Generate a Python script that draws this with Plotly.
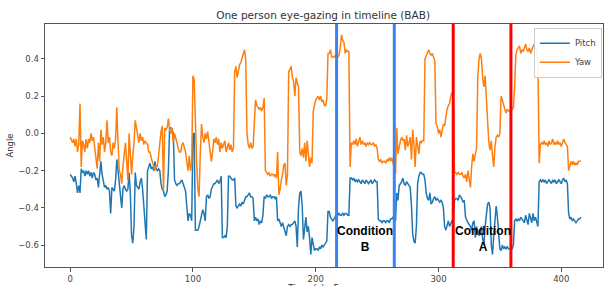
import plotly.graph_objects as go

pitch = [
    -0.22, -0.23, -0.24, -0.26, -0.23, -0.27, -0.32, -0.28, -0.32, -0.19,
    -0.21, -0.20, -0.23, -0.20, -0.22, -0.20, -0.23, -0.21, -0.24, -0.21,
    -0.22, -0.25, -0.24, -0.29, -0.20, -0.15, -0.22, -0.25, -0.29, -0.28,
    -0.30, -0.29, -0.31, -0.43, -0.29, -0.30, -0.31, -0.25, -0.14, -0.20,
    -0.26, -0.33, -0.40, -0.30, -0.28, -0.30, -0.31, -0.30, -0.21, -0.32,
    -0.55, -0.59, -0.50, -0.21, -0.28, -0.29, -0.30, -0.26, -0.24, -0.30,
    -0.39, -0.50, -0.57, -0.20, -0.18, -0.16, -0.19, -0.18, -0.20, -0.15,
    -0.19, -0.20, -0.19, -0.20, -0.27, -0.30, -0.31, -0.34, -0.33, -0.31,
    -0.20, 0.03, 0.03, 0.02, 0.00, -0.25, -0.27, -0.28, -0.27, -0.27,
    -0.26, -0.25, -0.27, -0.29, -0.31, -0.39, -0.47, -0.43, -0.44, -0.47,
    0.00, 0.00, -0.52, -0.52, -0.52, -0.50, -0.47, -0.44, -0.41, -0.43,
    -0.47, -0.34, -0.33, -0.35, -0.34, -0.30, -0.28, -0.27, -0.27, -0.26,
    -0.25, -0.27, -0.26, -0.23, -0.56, -0.56, -0.55, -0.56, -0.50, -0.23,
    -0.23, -0.24, -0.25, -0.25, -0.24, -0.39, -0.40, -0.39, -0.38, -0.39,
    -0.37, -0.38, -0.36, -0.34, -0.34, -0.33, -0.32, -0.34, -0.34, -0.35,
    -0.47, -0.45, -0.47, -0.46, -0.49, -0.47, -0.48, -0.44, -0.34, -0.35,
    -0.33, -0.34, -0.34, -0.33, -0.35, -0.34, -0.34, -0.35, -0.34, -0.47,
    -0.46, -0.48, -0.50, -0.48, -0.50, -0.52, -0.55, -0.50, -0.49, -0.50,
    -0.49, -0.49, -0.48, -0.47, -0.50, -0.61, -0.40, -0.32, -0.31, -0.39,
    -0.57, -0.50, -0.45, -0.53, -0.50, -0.56, -0.65, -0.56, -0.60, -0.63,
    -0.62, -0.62, -0.63, -0.61, -0.62, -0.60, -0.61, -0.60, -0.59, -0.58,
    -0.42, -0.42, -0.45, -0.46, -0.47, -0.46, -0.44, -0.43, -0.44, -0.43,
    -0.44, -0.44, -0.43, -0.44, -0.43, -0.43, -0.44, -0.44, -0.24, -0.24,
    -0.25, -0.24, -0.26, -0.25, -0.26, -0.25, -0.26, -0.27, -0.25, -0.26,
    -0.27, -0.25, -0.26, -0.27, -0.26, -0.25, -0.27, -0.26, -0.25, -0.26,
    -0.26, -0.46, -0.47, -0.47, -0.48, -0.47, -0.47, -0.48, -0.47, -0.47,
    -0.48, -0.46, -0.46, -0.45, -0.46, -0.47, -0.32, -0.36, -0.28, -0.27,
    -0.26, -0.24, -0.27, -0.28, -0.26, -0.27, -0.28, -0.29, -0.39, -0.54,
    -0.58, -0.59, -0.50, -0.27, -0.23, -0.21, -0.21, -0.22, -0.22, -0.25,
    -0.32, -0.35, -0.36, -0.32, -0.38, -0.37, -0.35, -0.34, -0.36, -0.35,
    -0.36, -0.37, -0.36, -0.37, -0.40, -0.50, -0.52, -0.50, -0.47, -0.50,
    -0.48, -0.47, -0.46, -0.36, -0.35, -0.35, -0.36, -0.33, -0.34, -0.35,
    -0.37, -0.36, -0.45, -0.47, -0.48, -0.49, -0.50, -0.52, -0.48, -0.47,
    -0.56, -0.50, -0.53, -0.55, -0.52, -0.50, -0.57, -0.60, -0.50, -0.44,
    -0.38, -0.37, -0.40, -0.60, -0.65, -0.55, -0.45, -0.39, -0.45, -0.55,
    -0.62, -0.63, -0.60, -0.62, -0.61, -0.62, -0.61, -0.62, -0.62, -0.62,
    -0.62, -0.60, -0.47, -0.46, -0.47, -0.46, -0.47, -0.45, -0.46, -0.47,
    -0.48, -0.44, -0.47, -0.49, -0.43, -0.46, -0.48, -0.43, -0.47, -0.45,
    -0.48, -0.50, -0.26, -0.25, -0.26, -0.25, -0.26, -0.25, -0.27, -0.26,
    -0.25, -0.26, -0.27, -0.25, -0.26, -0.25, -0.27, -0.26, -0.25, -0.26,
    -0.27, -0.25, -0.24, -0.26, -0.25, -0.27, -0.43, -0.46, -0.45, -0.47,
    -0.46, -0.47, -0.48, -0.47, -0.46, -0.46, -0.45,
]

yaw = [
    -0.02, -0.04, -0.05, -0.03, -0.07, -0.03, -0.10, -0.06, 0.16, -0.18,
    -0.04, -0.06, -0.10, -0.03, -0.08, -0.03, -0.05, 0.00, -0.04, -0.02,
    -0.08, -0.12, -0.19, -0.05, -0.15, 0.02, -0.06, -0.02, -0.10, -0.05,
    0.07, -0.05, -0.02, -0.10, -0.12, -0.05, -0.08, -0.03, 0.14, -0.05,
    -0.20, -0.22, -0.27, -0.18, -0.10, -0.05, -0.15, -0.25, 0.00, -0.10,
    -0.22, -0.12, -0.05, 0.07, 0.02, 0.00, -0.05, 0.00, -0.04, -0.02,
    -0.06, -0.04, -0.05, -0.06, -0.10, -0.10, -0.13, -0.15, -0.17, -0.20,
    -0.17, -0.18, -0.12, -0.05, 0.01, 0.04, -0.31, 0.03, 0.02, 0.03,
    0.08, 0.02, 0.00, 0.03, -0.05, 0.00, -0.02, -0.05, -0.08, -0.10,
    -0.10, -0.06, -0.05, -0.08, -0.10, -0.15, -0.20, -0.12, -0.20, -0.16,
    0.31, 0.29, 0.00, -0.15, -0.30, -0.34, -0.10, 0.05, -0.02, -0.05,
    0.00, -0.03, 0.01, -0.05, -0.08, -0.15, -0.10, -0.03, -0.05, -0.02,
    -0.06, -0.03, -0.10, -0.05, -0.08, -0.06, -0.04, -0.10, -0.07, -0.05,
    -0.09, -0.06, -0.10, -0.08, 0.33, 0.36, 0.30, 0.34, 0.37, 0.38,
    0.40, 0.42, 0.45, 0.40, 0.00, -0.06, -0.08, -0.05, -0.08, -0.07,
    0.10, 0.18, 0.15, 0.14, 0.13, 0.14, 0.12, 0.14, 0.19, -0.20,
    -0.21, -0.22, -0.21, -0.23, -0.22, -0.22, -0.23, -0.22, -0.24, -0.10,
    -0.33, -0.30, -0.25, -0.22, -0.17, -0.16, -0.28, -0.22, 0.33, 0.35,
    0.36, 0.30, 0.28, 0.20, 0.30, 0.27, 0.25, -0.10, -0.12, -0.08,
    -0.13, -0.05, -0.15, -0.04, -0.10, -0.18, -0.13, -0.16, 0.12, 0.15,
    0.18, 0.19, 0.20, 0.18, 0.20, 0.17, 0.18, 0.15, 0.15, 0.18,
    0.43, 0.43, 0.45, 0.41, 0.41, 0.41, 0.42, 0.40, 0.41, 0.42,
    0.46, 0.53, 0.50, 0.49, 0.43, 0.45, 0.44, 0.44, -0.18, -0.05,
    -0.06, -0.04, -0.06, -0.03, -0.07, -0.05, -0.02, -0.06, -0.04, -0.06,
    -0.05, -0.07, -0.05, -0.06, -0.05, -0.06, -0.06, -0.05, -0.07, -0.06,
    -0.08, -0.14, -0.15, -0.14, -0.16, -0.15, -0.15, -0.16, -0.14, -0.15,
    -0.13, -0.15, -0.13, -0.16, -0.18, -0.22, 0.03, -0.11, -0.06, -0.04,
    -0.02, -0.04, -0.03, -0.09, -0.01, -0.07, -0.05, -0.02, -0.14, 0.02,
    -0.06, -0.18, -0.02, -0.08, -0.11, -0.04, -0.05, -0.04, -0.04, 0.40,
    0.42, 0.44, 0.45, 0.43, 0.42, 0.43, 0.41, 0.39, 0.05, 0.04,
    0.00, 0.02, -0.02, 0.02, 0.05, 0.04, 0.10, 0.13, 0.15, 0.16,
    0.20, 0.22, 0.20, -0.21, -0.21, -0.22, -0.21, -0.22, -0.22, -0.21,
    -0.23, -0.24, -0.22, -0.26, -0.20, -0.24, -0.29, -0.18, -0.11, -0.15,
    -0.12, -0.08, 0.30, 0.40, 0.43, 0.40, 0.30, 0.25, 0.31, 0.20,
    0.05, -0.05, -0.09, -0.04, -0.12, -0.18, -0.07, -0.02, -0.01, -0.02,
    0.00, 0.20, 0.18, 0.15, 0.13, 0.11, 0.13, 0.12, 0.12, 0.12,
    0.13, 0.14, 0.25, 0.42, 0.45, 0.46, 0.47, 0.43, 0.45, 0.44,
    0.46, 0.48, 0.45, 0.44, 0.46, 0.43, 0.45, 0.47, 0.48, 0.46,
    0.44, 0.39, -0.16, -0.06, -0.05, -0.06, -0.04, -0.06, -0.05, -0.07,
    -0.04, -0.06, -0.05, -0.03, -0.06, -0.05, -0.06, -0.04, -0.06, -0.05,
    -0.07, -0.05, -0.03, -0.05, -0.06, -0.07, -0.20, -0.18, -0.15, -0.17,
    -0.15, -0.17, -0.16, -0.17, -0.15, -0.15, -0.15,
]

frames_pitch = list(range(len(pitch)))
frames_yaw = list(range(len(yaw)))

cond_b_lines = [217, 264]
cond_a_lines = [312, 359]
cond_labels = ["Condition<br>B", "Condition<br>A"]
cond_label_x = [240.5, 336]
cond_label_y = -0.565

x_ticks = [0, 100, 200, 300, 400]
y_ticks = [-0.6, -0.4, -0.2, 0.0, 0.2, 0.4]

fig = go.Figure()
fig.add_trace(go.Scatter(x=frames_pitch, y=pitch, mode="lines", name="Pitch",
                         line=dict(color="#1f77b4", width=1.5)))
fig.add_trace(go.Scatter(x=frames_yaw, y=yaw, mode="lines", name="Yaw",
                         line=dict(color="#ff7f0e", width=1.5)))

for xv in cond_b_lines:
    fig.add_shape(type="line", xref="x", yref="paper", x0=xv, x1=xv, y0=0, y1=1,
                  line=dict(color="#3b84f2", width=3))
for xv in cond_a_lines:
    fig.add_shape(type="line", xref="x", yref="paper", x0=xv, x1=xv, y0=0, y1=1,
                  line=dict(color="#ff0000", width=3))

for txt, xv in zip(cond_labels, cond_label_x):
    fig.add_annotation(x=xv, y=cond_label_y, xref="x", yref="y", text="<b>" + txt + "</b>",
                       showarrow=False,
                       font=dict(family="Liberation Sans, Arial", size=12, color="#000000"))

fig.add_annotation(x=0.5, y=-0.056, xref="paper", yref="paper", yanchor="top",
                   text="Time (s) - Frame", showarrow=False,
                   font=dict(family="DejaVu Sans", size=9, color="#333333"))

fig.update_layout(
    width=604, height=286,
    margin=dict(l=45, r=1, t=24, b=19),
    paper_bgcolor="white", plot_bgcolor="white",
    title=dict(text="One person eye-gazing in timeline (BAB)", x=0.535, xanchor="center",
               y=0.945, yanchor="middle",
               font=dict(family="DejaVu Sans", size=10.5, color="#333333")),
    font=dict(family="DejaVu Sans", size=8.5, color="#444444"),
    legend=dict(x=0.998, y=0.985, xanchor="right", yanchor="top",
                bgcolor="rgba(255,255,255,0.9)", bordercolor="#cccccc", borderwidth=1,
                font=dict(size=8.5, color="#444444"), tracegroupgap=0,
                itemwidth=30),
    showlegend=True,
)
fig.update_xaxes(range=[-20.5, 434], tickvals=x_ticks, showgrid=False, zeroline=False,
                 showline=True, linecolor="#555555", linewidth=1, mirror=True,
                 ticks="outside", ticklen=3.5, tickcolor="#555555", automargin=False)
fig.update_yaxes(range=[-0.718, 0.588], tickvals=y_ticks, tickformat=".1f", showgrid=False,
                 zeroline=False, showline=True, linecolor="#555555", linewidth=1, mirror=True,
                 ticks="outside", ticklen=3.5, tickcolor="#555555", automargin=False,
                 title=dict(text="Angle", standoff=3, font=dict(size=8.5, color="#333333")))

fig.write_html("out.html", config={"displayModeBar": False},
               post_script="document.body.style.margin='0';document.body.style.padding='0';")
